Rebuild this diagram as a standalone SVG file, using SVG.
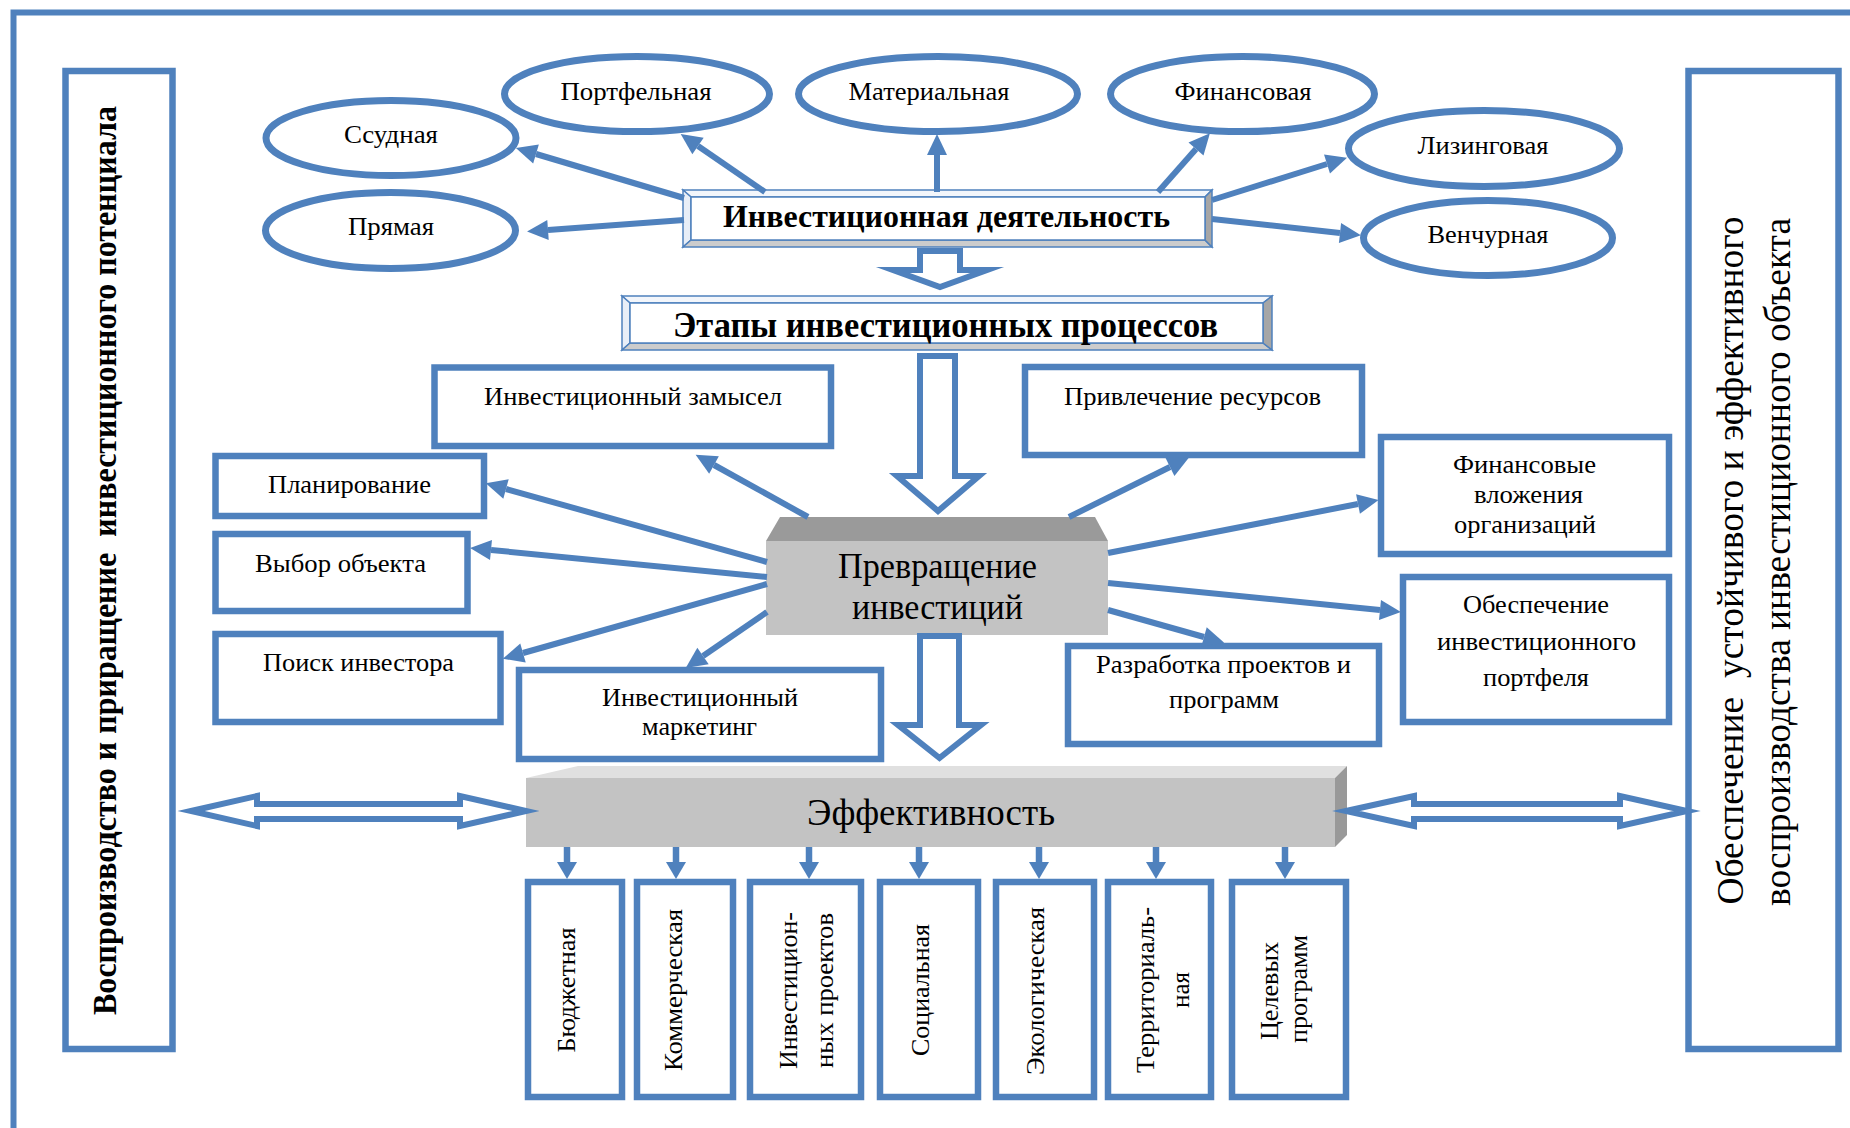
<svg xmlns="http://www.w3.org/2000/svg" width="1850" height="1128" viewBox="0 0 1850 1128">
<style>
.b{stroke:#4F81BD;fill:#fff;stroke-width:6.5}
.e{stroke:#4F81BD;fill:#fff;stroke-width:7}
.t{font-family:"Liberation Serif","Times New Roman",serif;fill:#000;text-anchor:middle;white-space:pre}
.s25{font-size:25px}
.s26{font-size:26px}
.bd{font-weight:bold}
.c{stroke:#4F81BD;stroke-width:6;fill:none}
.h{stroke:#4F81BD;stroke-width:6;fill:#fff;stroke-linejoin:miter;stroke-miterlimit:10}
.bev{stroke:#4F81BD;stroke-width:1.5}
.ah{fill:#4F81BD}
</style>
<defs>
<marker id="arr" markerUnits="userSpaceOnUse" markerWidth="22" markerHeight="22" refX="0" refY="10" orient="auto" overflow="visible">
<path d="M0,0 L21,10 L0,20 Z" fill="#4F81BD"/>
</marker>
</defs>
<rect width="1850" height="1128" fill="#fff"/>
<path id="frame" d="M13.5,1128 V12.5 H1850" fill="none" stroke="#4F81BD" stroke-width="6"/>

<g id="n-left">
<rect class="b" x="65.5" y="71" width="107" height="978" stroke-width="7"/>
<text class="t bd" font-size="33" transform="translate(116,560.5) rotate(-90)" textLength="909" lengthAdjust="spacingAndGlyphs">Воспроизводство и приращение  инвестиционного потенциала</text>
</g>
<g id="n-right">
<rect class="b" x="1688.5" y="71" width="150" height="978" stroke-width="7"/>
<text class="t" font-size="38" transform="translate(1743,560.5) rotate(-90)" textLength="688" lengthAdjust="spacingAndGlyphs">Обеспечение  устойчивого и эффективного</text>
<text class="t" font-size="38" transform="translate(1790,562) rotate(-90)" textLength="688" lengthAdjust="spacingAndGlyphs">воспроизводства инвестиционного объекта</text>
</g>

<g id="n-ssud"><ellipse class="e" cx="391" cy="138" rx="125" ry="37.5"/><text class="t s25" x="391" y="143" textLength="94" lengthAdjust="spacingAndGlyphs">Ссудная</text></g>
<g id="n-portf"><ellipse class="e" cx="637" cy="94" rx="132.5" ry="37.5"/><text class="t s25" x="636" y="100" textLength="151" lengthAdjust="spacingAndGlyphs">Портфельная</text></g>
<g id="n-mater"><ellipse class="e" cx="938" cy="94" rx="139.5" ry="37.5"/><text class="t s25" x="929" y="100" textLength="161" lengthAdjust="spacingAndGlyphs">Материальная</text></g>
<g id="n-finans"><ellipse class="e" cx="1242.5" cy="94" rx="132" ry="37.5"/><text class="t s25" x="1243" y="100" textLength="137" lengthAdjust="spacingAndGlyphs">Финансовая</text></g>
<g id="n-lizing"><ellipse class="e" cx="1484" cy="148.5" rx="135.5" ry="38"/><text class="t s25" x="1483" y="154" textLength="131" lengthAdjust="spacingAndGlyphs">Лизинговая</text></g>
<g id="n-venchur"><ellipse class="e" cx="1488" cy="238" rx="124.5" ry="37.5"/><text class="t s25" x="1488" y="243" textLength="121" lengthAdjust="spacingAndGlyphs">Венчурная</text></g>
<g id="n-pryam"><ellipse class="e" cx="390.5" cy="230.5" rx="125" ry="38"/><text class="t s25" x="391" y="235" textLength="86" lengthAdjust="spacingAndGlyphs">Прямая</text></g>

<g id="n-activity">
<polygon class="bev" points="683,190 1212,190 1205,197 691,197" fill="#f3f6fb"/>
<polygon class="bev" points="683,190 691,197 691,240 683,247" fill="#e8eef7"/>
<polygon class="bev" points="683,247 691,240 1205,240 1212,247" fill="#cccccc"/>
<polygon class="bev" points="1212,190 1205,197 1205,240 1212,247" fill="#a6a6a6"/>
<rect class="bev" x="691" y="197" width="514" height="43" fill="#fff"/>
<text class="t bd" font-size="32" x="946.5" y="227" textLength="447" lengthAdjust="spacingAndGlyphs">Инвестиционная деятельность</text>
</g>

<g id="n-stages">
<polygon class="bev" points="622,296 1272,296 1263,303 630,303" fill="#f3f6fb"/>
<polygon class="bev" points="622,296 630,303 630,343 622,350" fill="#e8eef7"/>
<polygon class="bev" points="622,350 630,343 1263,343 1272,350" fill="#cccccc"/>
<polygon class="bev" points="1272,296 1263,303 1263,343 1272,350" fill="#a6a6a6"/>
<rect class="bev" x="630" y="303" width="633" height="40" fill="#fff"/>
<text class="t bd" font-size="35" x="945.5" y="337" textLength="545" lengthAdjust="spacingAndGlyphs">Этапы инвестиционных процессов</text>
</g>

<g id="n-zamysel"><rect class="b" x="434.5" y="367.5" width="396.5" height="78.5"/><text class="t s26" x="633" y="405" textLength="298" lengthAdjust="spacingAndGlyphs">Инвестиционный замысел</text></g>
<g id="n-privl"><rect class="b" x="1025" y="367" width="337" height="88"/><text class="t s26" x="1192.5" y="405" textLength="257" lengthAdjust="spacingAndGlyphs">Привлечение ресурсов</text></g>
<g id="n-plan"><rect class="b" x="215.5" y="456" width="268.5" height="60"/><text class="t s26" x="349.5" y="493" textLength="163" lengthAdjust="spacingAndGlyphs">Планирование</text></g>
<g id="n-vybor"><rect class="b" x="215.5" y="534" width="252" height="77"/><text class="t s26" x="340.5" y="572" textLength="171" lengthAdjust="spacingAndGlyphs">Выбор объекта</text></g>
<g id="n-poisk"><rect class="b" x="215.5" y="634" width="285" height="88"/><text class="t s26" x="358.5" y="671" textLength="191" lengthAdjust="spacingAndGlyphs">Поиск инвестора</text></g>
<g id="n-market"><rect class="b" x="519" y="670" width="362" height="89"/><text class="t s26" x="700" y="706" textLength="196" lengthAdjust="spacingAndGlyphs">Инвестиционный</text><text class="t s26" x="699.5" y="735" textLength="115" lengthAdjust="spacingAndGlyphs">маркетинг</text></g>
<g id="n-finvl"><rect class="b" x="1381" y="437" width="288" height="117"/><text class="t s26" x="1524.5" y="473" textLength="143" lengthAdjust="spacingAndGlyphs">Финансовые</text><text class="t s26" x="1528.5" y="503" textLength="109" lengthAdjust="spacingAndGlyphs">вложения</text><text class="t s26" x="1525" y="533" textLength="142" lengthAdjust="spacingAndGlyphs">организаций</text></g>
<g id="n-obesp"><rect class="b" x="1403" y="577" width="266" height="145"/><text class="t s26" x="1536" y="613" textLength="146" lengthAdjust="spacingAndGlyphs">Обеспечение</text><text class="t s26" x="1536.5" y="650" textLength="199" lengthAdjust="spacingAndGlyphs">инвестиционного</text><text class="t s26" x="1536" y="686" textLength="106" lengthAdjust="spacingAndGlyphs">портфеля</text></g>
<g id="n-razrab"><rect class="b" x="1068" y="646" width="311" height="98"/><text class="t s26" x="1223.5" y="673" textLength="255" lengthAdjust="spacingAndGlyphs">Разработка проектов и</text><text class="t s26" x="1224" y="708" textLength="110" lengthAdjust="spacingAndGlyphs">программ</text></g>

<g id="n-prevr">
<polygon points="780,517 1095,517 1108,541 766,541" fill="#9a9a9a"/>
<rect x="766" y="541" width="342" height="94" fill="#c3c3c3"/>
<text class="t" font-size="36" x="937.5" y="578" textLength="199" lengthAdjust="spacingAndGlyphs">Превращение</text>
<text class="t" font-size="36" x="937.5" y="619" textLength="171" lengthAdjust="spacingAndGlyphs">инвестиций</text>
</g>

<g id="n-effect">
<polygon points="578,766 1347,766 1335,778 526,778" fill="#e0e0e0"/>
<rect x="526" y="778" width="809" height="69" fill="#c3c3c3"/>
<polygon points="1335,778 1347,766 1347,835 1335,847" fill="#999999"/>
<text class="t" font-size="37" x="931" y="825" textLength="248" lengthAdjust="spacingAndGlyphs">Эффективность</text>
</g>

<g id="n-budget"><rect class="b" x="528" y="882" width="94" height="215"/><text class="t s26" transform="translate(575,990) rotate(-90)" textLength="125" lengthAdjust="spacingAndGlyphs">Бюджетная</text></g>
<g id="n-kommer"><rect class="b" x="637" y="882" width="96" height="215"/><text class="t s26" transform="translate(682,990) rotate(-90)" textLength="162" lengthAdjust="spacingAndGlyphs">Коммерческая</text></g>
<g id="n-invproj"><rect class="b" x="750" y="882" width="111" height="215"/><text class="t s26" transform="translate(797,990.5) rotate(-90)" textLength="157" lengthAdjust="spacingAndGlyphs">Инвестицион-</text><text class="t s26" transform="translate(833,990.5) rotate(-90)" textLength="155" lengthAdjust="spacingAndGlyphs">ных проектов</text></g>
<g id="n-social"><rect class="b" x="880" y="882" width="98" height="215"/><text class="t s26" transform="translate(929,990) rotate(-90)" textLength="132" lengthAdjust="spacingAndGlyphs">Социальная</text></g>
<g id="n-ekolog"><rect class="b" x="996" y="882" width="98" height="215"/><text class="t s26" transform="translate(1044,991) rotate(-90)" textLength="168" lengthAdjust="spacingAndGlyphs">Экологическая</text></g>
<g id="n-territ"><rect class="b" x="1108" y="882" width="103" height="215"/><text class="t s26" transform="translate(1154,990) rotate(-90)" textLength="166" lengthAdjust="spacingAndGlyphs">Территориаль-</text><text class="t s26" transform="translate(1189,990) rotate(-90)" textLength="36" lengthAdjust="spacingAndGlyphs">ная</text></g>
<g id="n-celev"><rect class="b" x="1232" y="882" width="114" height="215"/><text class="t s26" transform="translate(1278,991) rotate(-90)" textLength="98" lengthAdjust="spacingAndGlyphs">Целевых</text><text class="t s26" transform="translate(1307,989) rotate(-90)" textLength="108" lengthAdjust="spacingAndGlyphs">программ</text></g>

<g id="connectors">
<path class="c" marker-end="url(#arr)" d="M684,198 L536,154"/>
<path class="c" marker-end="url(#arr)" d="M765,192 L698,146"/>
<path class="c" marker-end="url(#arr)" d="M684,220 L548,230"/>
<path class="c" marker-end="url(#arr)" d="M937,192 L937,155"/>
<path class="c" marker-end="url(#arr)" d="M1158,192 L1196,149"/>
<path class="c" marker-end="url(#arr)" d="M1212,200 L1327,164"/>
<path class="c" marker-end="url(#arr)" d="M1212,219 L1340,233"/>

<path class="c" marker-end="url(#arr)" d="M808,517 L714,465"/>
<path class="c" marker-end="url(#arr)" d="M767,562 L506,489"/>
<path class="c" marker-end="url(#arr)" d="M767,577 L491,550"/>
<path class="c" marker-end="url(#arr)" d="M767,584 L523,653"/>
<path class="c" marker-end="url(#arr)" d="M767,612 L703,656"/>
<path class="c" marker-end="url(#arr)" d="M1069,517 L1170,467"/>
<path class="c" marker-end="url(#arr)" d="M1108,553 L1358,504"/>
<path class="c" marker-end="url(#arr)" d="M1108,583 L1380,610"/>
<path class="c" marker-end="url(#arr)" d="M1108,610 L1204,637"/>

<path class="h" d="M920,251 H960 V270 H987 L940,287 L893,270 H920 Z"/>
<path class="h" d="M920,356 H955 V476 H979 L938,511 L897,476 H920 Z"/>
<path class="h" d="M920,636 H959 V725 H981 L939.5,758 L898,725 H920 Z"/>

<path class="h" d="M191,811 L257,796 V804 H460 V796 L526,811 L460,826 V819 H257 V826 Z"/>
<path class="h" d="M1346,811 L1414,796 V804 H1620 V796 L1687,811 L1620,826 V819 H1414 V826 Z"/>

<g stroke="#4F81BD" stroke-width="6.5">
<line x1="567" y1="847" x2="567" y2="864"/>
<line x1="676" y1="847" x2="676" y2="864"/>
<line x1="809" y1="847" x2="809" y2="864"/>
<line x1="919" y1="847" x2="919" y2="864"/>
<line x1="1039" y1="847" x2="1039" y2="864"/>
<line x1="1156" y1="847" x2="1156" y2="864"/>
<line x1="1285" y1="847" x2="1285" y2="864"/>
</g>
<polygon class="ah" points="557,862 577,862 567,879"/>
<polygon class="ah" points="666,862 686,862 676,879"/>
<polygon class="ah" points="799,862 819,862 809,879"/>
<polygon class="ah" points="909,862 929,862 919,879"/>
<polygon class="ah" points="1029,862 1049,862 1039,879"/>
<polygon class="ah" points="1146,862 1166,862 1156,879"/>
<polygon class="ah" points="1275,862 1295,862 1285,879"/>
</g>
</svg>
